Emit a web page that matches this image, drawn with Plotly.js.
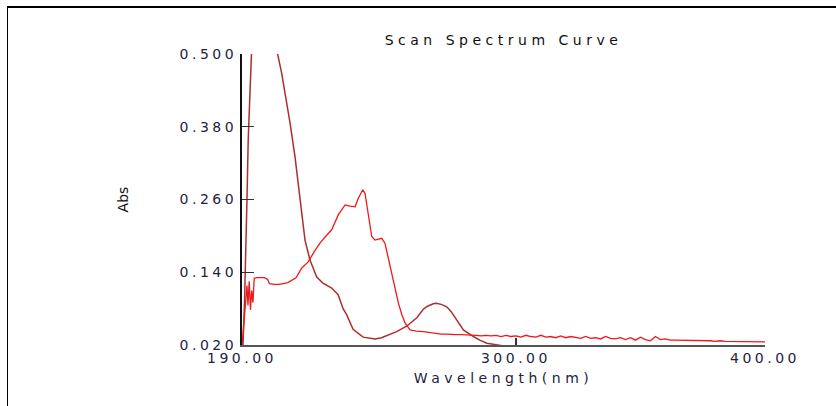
<!DOCTYPE html>
<html>
<head>
<meta charset="utf-8">
<script src="https://cdn.plot.ly/plotly-3.0.1.min.js"></script>
<style>
  html, body { margin: 0; padding: 0; background: #ffffff; }
  #wrap { position: relative; width: 836px; height: 406px; overflow: hidden; }
  #chart { position: absolute; left: 0; top: 0; width: 836px; height: 406px; }
  #frame { position: absolute; left: 7px; top: 6px; right: -5px; bottom: -5px;
           border-top: 2px solid #000; border-left: 1px solid #000; pointer-events: none; }
  .gtitle { letter-spacing: 4.5px; }
  .xtitle { letter-spacing: 4.5px; }
  .xtick text, .ytick text { letter-spacing: 3.5px; }
</style>
</head>
<body>
<div id="wrap">
  <div id="chart"></div>
  <div id="frame"></div>
</div>
<script>
// Curve A (dark red)
const wavelengthA = [190.0, 190.4, 191.0, 191.5, 192.0, 192.5, 193.0, 193.5, 194.0, 196.0, 198.0, 200.0, 202.0,
  204.3, 205.9, 207.3, 209.3, 211.3, 212.9, 214.0, 215.3, 217.3, 220.0, 222.5, 226.0, 228.6, 230.6, 232.0,
  234.6, 238.6, 241.0, 243.4, 246.0, 248.1, 250.8, 252.1, 256.1, 260.2, 262.8, 264.5, 266.8, 268.0, 270.0,
  272.2, 274.0, 276.2, 278.9, 282.9, 285.5, 288.3, 292.3, 296.0, 300.0, 320.0, 340.0, 360.0, 380.0, 400.0];
const absA = [0.010, 0.020, 0.090, 0.160, 0.260, 0.360, 0.450, 0.530, 0.620, 0.850, 0.950, 0.880, 0.700,
  0.500, 0.469, 0.436, 0.386, 0.330, 0.276, 0.238, 0.193, 0.160, 0.132, 0.122, 0.114, 0.103, 0.080, 0.070,
  0.046, 0.033, 0.031, 0.030, 0.032, 0.035, 0.039, 0.042, 0.051, 0.065, 0.079, 0.084, 0.088, 0.089, 0.087,
  0.083, 0.075, 0.061, 0.045, 0.034, 0.028, 0.023, 0.020, 0.017, 0.015, 0.014, 0.013, 0.013, 0.012, 0.012];

// Curve B (bright red)
const wavelengthB = [190.0, 190.5, 191.0, 191.5, 192.0, 192.4, 192.9, 193.4, 193.9, 194.4, 194.9, 196.0, 197.6,
  199.0, 200.3, 201.0, 203.0, 205.0, 208.4, 211.7, 214.0, 216.6, 219.0, 221.3, 224.0, 226.0, 228.7, 231.4,
  233.4, 235.4, 236.7, 238.5, 239.4, 240.7, 242.1, 243.4, 246.1, 247.4, 248.7, 250.1, 251.5, 252.8, 254.2,
  255.5, 257.5, 260.0, 262.8, 266.0, 268.0,
  270, 272, 274, 276, 278, 280, 282, 284, 286, 288, 290, 292, 294, 296, 298, 300, 302, 304, 306, 308,
  310, 312, 314, 316, 318, 320, 322, 324, 326, 328, 330, 332, 334, 336, 338, 340, 342, 344, 346, 348,
  350, 352, 354, 356, 358, 360, 362, 364, 366, 368, 370, 372, 374, 376, 378, 380, 382, 384, 386, 388,
  390, 392, 394, 396, 398, 400];
const absB = [0.018, 0.045, 0.065, 0.095, 0.118, 0.085, 0.125, 0.078, 0.110, 0.090, 0.130, 0.131, 0.131,
  0.131, 0.128, 0.121, 0.120, 0.120, 0.123, 0.131, 0.147, 0.157, 0.174, 0.188, 0.201, 0.210, 0.235, 0.251,
  0.249, 0.248, 0.262, 0.276, 0.270, 0.232, 0.199, 0.193, 0.196, 0.188, 0.165, 0.138, 0.112, 0.089, 0.070,
  0.056, 0.045, 0.043, 0.042, 0.040, 0.039,
  0.038, 0.038, 0.037, 0.037, 0.037, 0.037, 0.036, 0.036, 0.035, 0.036, 0.035, 0.036, 0.034, 0.036, 0.034, 0.035, 0.033, 0.036, 0.034, 0.033,
  0.036, 0.033, 0.034, 0.032, 0.035, 0.032, 0.034, 0.033, 0.031, 0.034, 0.031, 0.032, 0.030, 0.034, 0.031, 0.030, 0.032, 0.029, 0.032, 0.028,
  0.033, 0.029, 0.027, 0.034, 0.029, 0.030, 0.028, 0.028, 0.028, 0.027, 0.028, 0.027, 0.027, 0.027, 0.027, 0.026, 0.027, 0.026, 0.026, 0.026,
  0.026, 0.026, 0.025, 0.025, 0.025, 0.025];

const xTickVals = [190, 300, 400];
const xTickText = ["190.00", "300.00", "400.00"];
const yTickVals = [0.02, 0.14, 0.26, 0.38, 0.50];
const yTickText = ["0.020", "0.140", "0.260", "0.380", "0.500"];

const chartTitle = "Scan Spectrum Curve";
const xTitle = "Wavelength(nm)";
const yTitle = "Abs";

const tickFont = { family: "DejaVu Sans, Verdana, sans-serif", size: 14, color: "#1c2440" };

const traces = [
  { x: wavelengthA, y: absA, type: "scatter", mode: "lines", name: "A",
    line: { color: "#a8302e", width: 1.5 }, hoverinfo: "skip" },
  { x: wavelengthB, y: absB, type: "scatter", mode: "lines", name: "B",
    line: { color: "#f01818", width: 1.3 }, hoverinfo: "skip" }
];

const layout = {
  width: 836, height: 406,
  margin: { l: 242, r: 71, t: 54, b: 61, pad: 0 },
  paper_bgcolor: "#ffffff", plot_bgcolor: "#ffffff",
  showlegend: false,
  title: { text: chartTitle, x: 0.5, xref: "paper", y: 1 - 40 / 406, yref: "container", yanchor: "middle",
           font: { family: "DejaVu Sans, Verdana, sans-serif", size: 14, color: "#111111" } },
  xaxis: {
    range: [190, 400], tickvals: xTickVals, ticktext: xTickText,
    showline: true, linecolor: "#555555", linewidth: 1.5, mirror: false,
    ticks: "inside", ticklen: 7, tickwidth: 1.2, tickcolor: "#333333",
    showgrid: false, zeroline: false, tickfont: tickFont,
    title: { text: xTitle, standoff: 8, font: { family: "DejaVu Sans, Verdana, sans-serif", size: 14, color: "#1c2440" } }
  },
  yaxis: {
    range: [0.02, 0.5], tickvals: yTickVals, ticktext: yTickText,
    showline: true, linecolor: "#111111", linewidth: 2, mirror: false,
    ticks: "inside", ticklen: 12, tickwidth: 1.2, tickcolor: "#333333",
    showgrid: false, zeroline: false, tickfont: tickFont,
    title: { text: yTitle, standoff: 48, font: { family: "DejaVu Sans, Verdana, sans-serif", size: 14, color: "#111111" } }
  }
};

Plotly.newPlot("chart", traces, layout, { displayModeBar: false, staticPlot: true });
</script>
</body>
</html>
